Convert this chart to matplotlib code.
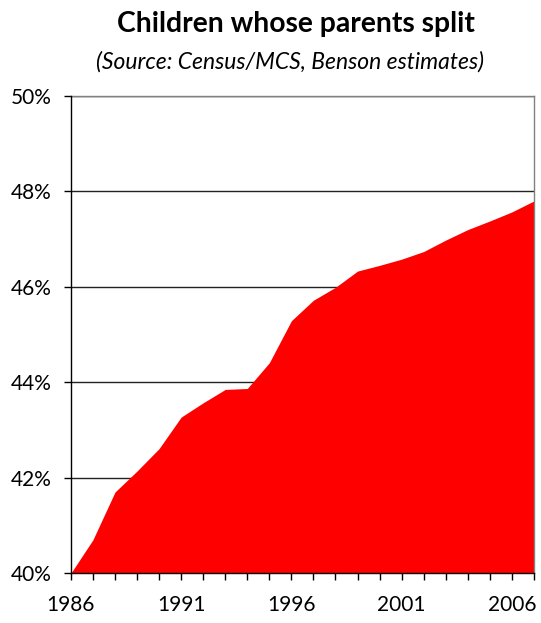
import numpy as np
import matplotlib.pyplot as plt
from matplotlib.ticker import FuncFormatter

years = list(range(1986, 2008))
share = [40.00, 40.70, 41.70, 42.14, 42.61, 43.27, 43.57, 43.85, 43.87, 44.41,
         45.29, 45.72, 45.99, 46.33, 46.45, 46.58, 46.74, 46.98, 47.20, 47.38,
         47.57, 47.80]
label_years = [1986, 1991, 1996, 2001, 2006]
y_ticks = [40, 42, 44, 46, 48, 50]

title = 'Children whose parents split'
subtitle = '(Source: Census/MCS, Benson estimates)'


def main():
    plt.rcParams['font.family'] = ['Lato', 'DejaVu Sans']

    fig = plt.figure(figsize=(5.41, 6.23), dpi=100)
    ax = fig.add_axes([0.131, 0.080, 0.856, 0.766])

    ax.fill_between(years, 40, share, color='#ff0000', linewidth=0, zorder=2)

    ax.set_xlim(years[0], years[-1])
    ax.set_ylim(40, 50)

    ax.set_yticks(y_ticks)
    ax.yaxis.set_major_formatter(FuncFormatter(lambda v, p: '%d%%' % v))
    ax.set_xticks(years, minor=True)
    ax.set_xticks(label_years)
    ax.set_xticklabels([str(y) for y in label_years])

    ax.grid(axis='y', color='#222222', linewidth=1.0, zorder=1)
    ax.set_axisbelow(True)

    ax.tick_params(axis='both', which='both', direction='out', labelsize=15,
                   color='black', width=1)
    ax.tick_params(axis='y', length=5, pad=9)
    ax.tick_params(axis='x', which='major', length=5, pad=11)
    ax.tick_params(axis='x', which='minor', length=5)

    for side in ['left', 'bottom']:
        ax.spines[side].set_color('black')
        ax.spines[side].set_linewidth(1)
        ax.spines[side].set_zorder(3)
    for side in ['top', 'right']:
        ax.spines[side].set_color('#808080')
        ax.spines[side].set_linewidth(1)

    fig.text(0.547, 0.961, title, ha='center', va='center',
             fontsize=20.3, fontweight='bold')
    fig.text(0.536, 0.900, subtitle, ha='center', va='center',
             fontsize=16.5, fontstyle='italic')

    fig.savefig('out.png', dpi=100)


if __name__ == "__main__":

    main()
